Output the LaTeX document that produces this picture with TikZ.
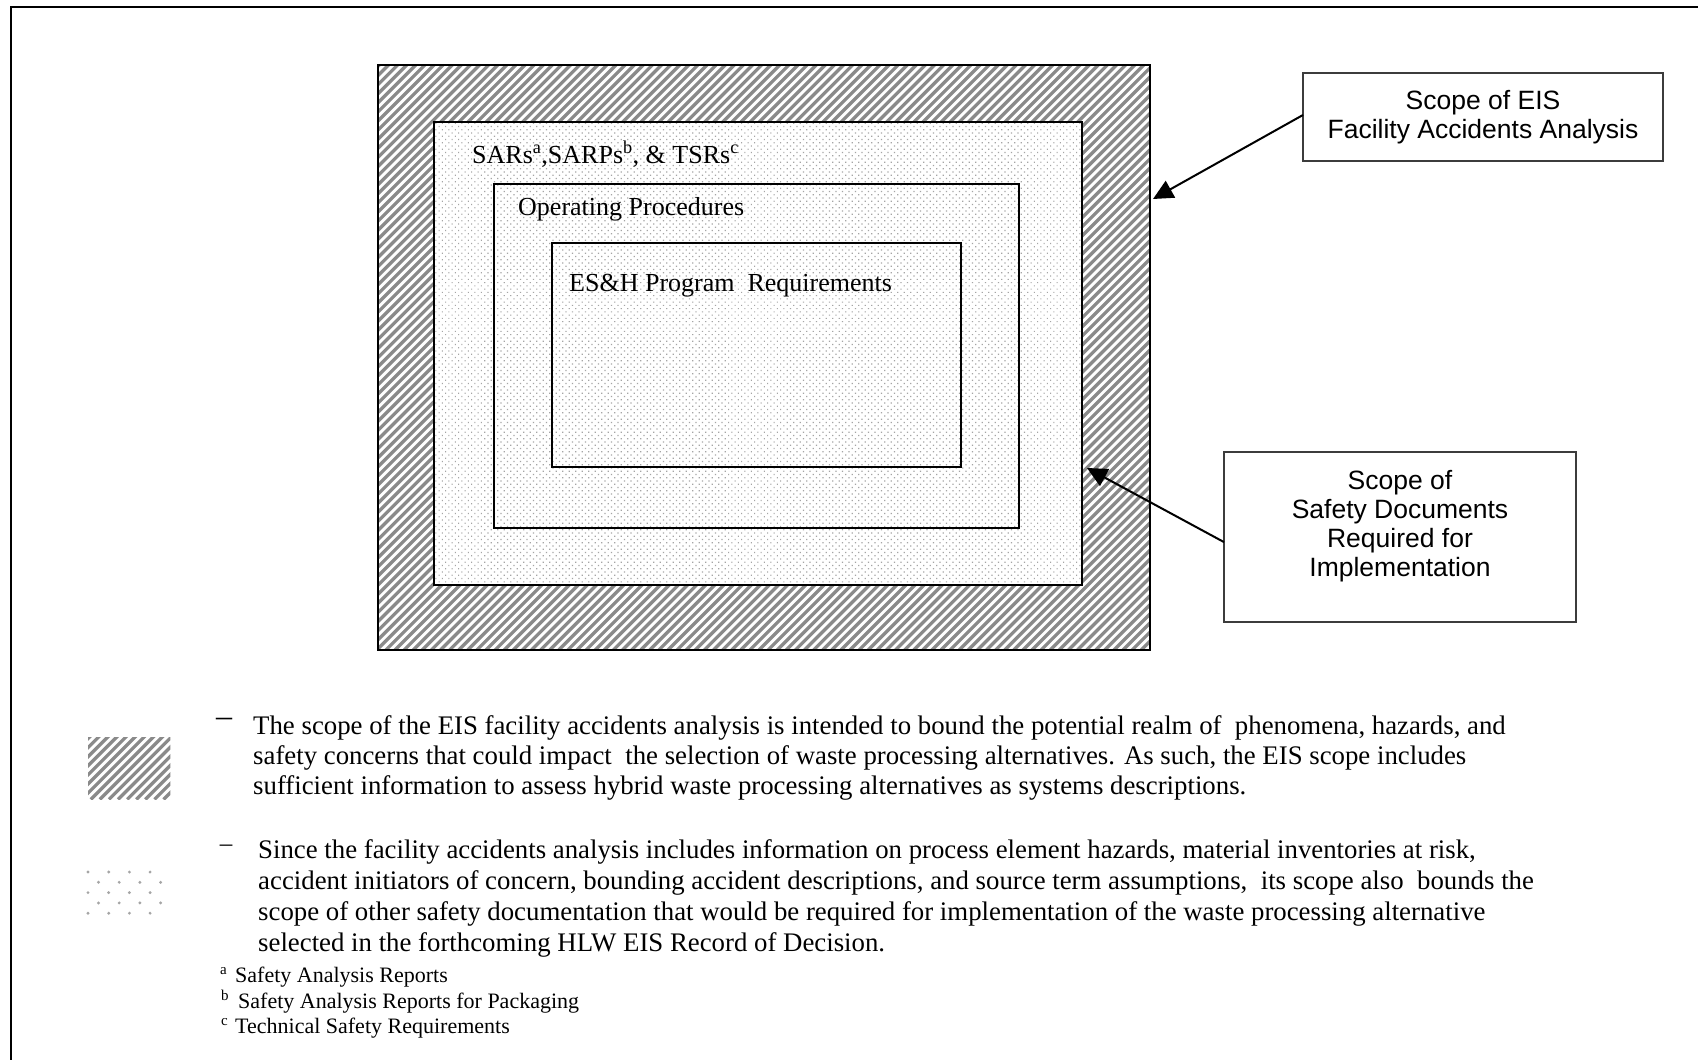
\documentclass[tikz,border=0pt]{standalone}
\usepackage{fontspec}
\setmainfont{Liberation Serif}
\newfontfamily\calloutfont{Liberation Sans}
\usetikzlibrary{patterns.meta,arrows.meta,calc}
\definecolor{hatchgray}{RGB}{138,138,138}
\definecolor{dotgray}{RGB}{165,165,165}
\definecolor{boxline}{RGB}{60,60,60}
\begin{document}
\begin{tikzpicture}[x=1pt,y=-1pt,
  region/.style={draw=black,line width=2pt,anchor=north west,inner sep=0pt,outer sep=0pt},
  dotted/.style={region,preaction={fill=white},
    pattern={Dots[angle=45,distance=4.6pt,radius=0.85pt]},pattern color=dotgray},
  hatchline/.style={draw=hatchgray,line width=3.3pt},
  callout/.style={draw=boxline,line width=1.5pt,anchor=north west,inner sep=0pt,outer sep=0pt},
  callouttext/.style={font=\calloutfont\fontsize{26.5}{29}\selectfont,align=center,inner sep=0pt},
  regiontext/.style={font=\fontsize{26}{31}\selectfont,anchor=base west,inner sep=0pt},
  legendtext/.style={font=\fontsize{26.8}{30}\selectfont,anchor=base west,inner sep=0pt},
  notetext/.style={font=\fontsize{22}{25}\selectfont,anchor=base west,inner sep=0pt},
  notemark/.style={font=\fontsize{15}{17}\selectfont,anchor=base west,inner sep=0pt},
  pointer/.style={line width=2pt,-{Triangle[length=20pt,width=19pt]}}
]
\useasboundingbox (0,0) rectangle (1698,1060);
\fill[white] (0,0) rectangle (1698,1060);

% page frame (top and left edges)
\draw[line width=2.5pt] (11,1060) -- (11,7) -- (1698,7);

% outer hatched region
\node[region,draw=none,fill=white,minimum width=772pt,minimum height=585pt] (r1) at (378,65) {};
\begin{scope}
  \clip (r1.north west) rectangle (r1.south east);
  \foreach \k in {0,...,152}{
    \draw[hatchline] ($(r1.south west)+({\k*9.1-620},0)$) -- ++(700,-700);
  }
\end{scope}
\draw[line width=2pt] (r1.north west) rectangle (r1.south east);

% nested dotted regions
\node[dotted,minimum width=648pt,minimum height=463pt] (r2) at (434,122) {};
\node[dotted,minimum width=525pt,minimum height=344pt] (r3) at (494,184) {};
\node[dotted,minimum width=409pt,minimum height=224pt] (r4) at (552,243) {};

\node[regiontext] (t2) at (472,163) {SARs\textsuperscript{a},SARPs\textsuperscript{b}, \& TSRs\textsuperscript{c}};
\node[regiontext] (t3) at (518,215) {Operating Procedures};
\node[regiontext] (t4) at (569,291) {ES\&H Program\ \ Requirements};

% callout boxes
\node[callout,minimum width=360pt,minimum height=88pt] (box1) at (1303,73) {};
\node[callouttext] (lab1) at (1483,117) {Scope of EIS\\Facility Accidents Analysis};
\node[callout,minimum width=352pt,minimum height=170pt] (box2) at (1224,452) {};
\node[callouttext] (lab2) at (1400,526) {Scope of\\Safety Documents\\Required for\\Implementation};

\coordinate (tip1) at (1153,199);
\coordinate (tip2) at (1087,468);
\draw[pointer] ($(box1.north west)!0.477!(box1.south west)$) -- (tip1);
\draw[pointer] ($(box2.north west)!0.53!(box2.south west)$) -- (tip2);

% legend swatches
\node[anchor=north west,inner sep=0pt,minimum width=82pt,minimum height=62pt] (sw1) at (88,737) {};
\begin{scope}
  \clip (sw1.north west) rectangle (sw1.south east);
  \foreach \k in {0,...,16}{
    \draw[hatchline] ($(sw1.south west)+({\k*9.1-70},0)$) -- ++(100,-100);
  }
\end{scope}
\foreach \r in {0,...,4}{
  \pgfmathsetmacro{\yy}{872+10.3*\r}
  \pgfmathsetmacro{\xo}{mod(\r,2)==0 ? 88 : 98.5}
  \foreach \c in {0,...,3}{
    \fill[dotgray] ({\xo+20.7*\c},\yy) circle (1.6pt);
  }
}

% legend text
\node[font=\fontsize{32}{32}\selectfont,inner sep=0pt] (d1) at (224,722) {–};
\node[legendtext] (p1a) at (253,734) {The scope of the EIS facility accidents analysis is intended to bound the potential realm of\ \ phenomena, hazards, and};
\node[legendtext] (p1b) at (253,764) {safety concerns that could impact\ \ the selection of waste processing alternatives. As such, the EIS scope includes};
\node[legendtext] (p1c) at (253,794) {sufficient information to assess hybrid waste processing alternatives as systems descriptions.};

\node[font=\fontsize{25}{25}\selectfont,inner sep=0pt] (d2) at (226,848) {–};
\node[legendtext] (p2a) at (258,858) {Since the facility accidents analysis includes information on process element hazards, material inventories at risk,};
\node[legendtext] (p2b) at (258,889) {accident initiators of concern, bounding accident descriptions, and source term assumptions,\ \ its scope also\ \ bounds the};
\node[legendtext] (p2c) at (258,920) {scope of other safety documentation that would be required for implementation of the waste processing alternative};
\node[legendtext] (p2d) at (258,951) {selected in the forthcoming HLW EIS Record of Decision.};

% footnotes
\node[notemark] (na) at (220,974) {a};
\node[notetext] (fa) at (235,982) {Safety Analysis Reports};
\node[notemark] (nb) at (221,1000) {b};
\node[notetext] (fb) at (238,1008) {Safety Analysis Reports for Packaging};
\node[notemark] (nc) at (221,1025) {c};
\node[notetext] (fc) at (235,1033) {Technical Safety Requirements};
\end{tikzpicture}
\end{document}
